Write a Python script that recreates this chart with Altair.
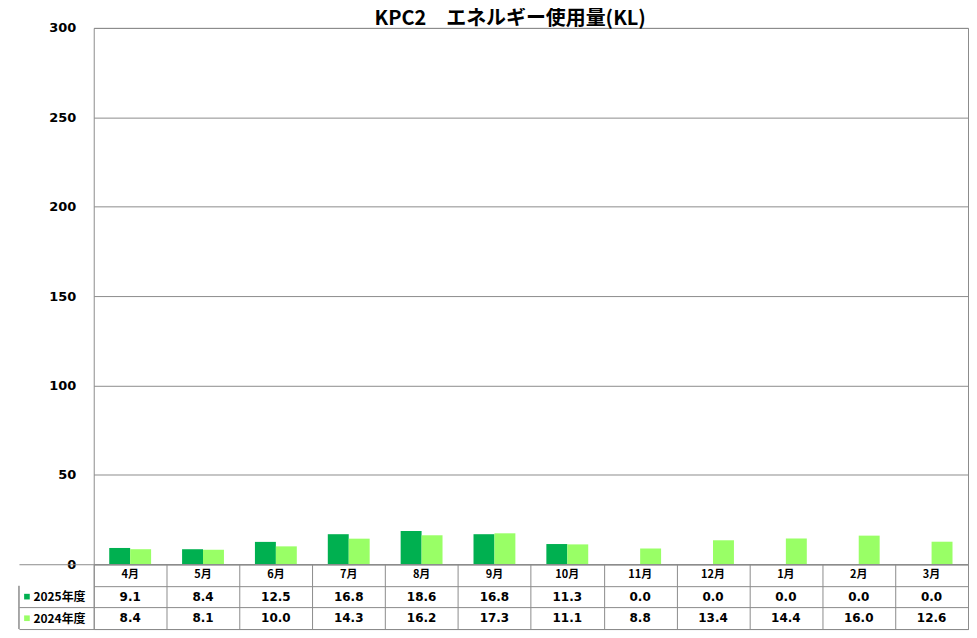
import altair as alt
import pandas as pd

months = ["4月", "5月", "6月", "7月", "8月", "9月", "10月", "11月", "12月", "1月", "2月", "3月"]
series = ["2025年度", "2024年度"]
fy2025 = [9.1, 8.4, 12.5, 16.8, 18.6, 16.8, 11.3, 0.0, 0.0, 0.0, 0.0, 0.0]
fy2024 = [8.4, 8.1, 10.0, 14.3, 16.2, 17.3, 11.1, 8.8, 13.4, 14.4, 16.0, 12.6]
colors = ["#00B050", "#99FF66"]
y_ticks = [0, 50, 100, 150, 200, 250, 300]
title_text = "KPC2　エネルギー使用量(KL)"

rows = []
for m, a, b in zip(months, fy2025, fy2024):
    rows.append({"month": m, "series": series[0], "value": a})
    rows.append({"month": m, "series": series[1], "value": b})
df = pd.DataFrame(rows)

header_key = "月"
row_domain = [header_key] + series
header_df = pd.DataFrame({"month": months, "row": [header_key] * len(months)})
legend_df = pd.DataFrame({"series": series})

FONT = "Noto Sans CJK JP"
NUMFONT = "DejaVu Sans"
GRID = "#8c8c8c"
W = 877
H_TOP = 538
H_TAB = 65

x_scale = alt.Scale(domain=months, paddingInner=0, paddingOuter=0)
color_scale = alt.Scale(domain=series, range=colors)

bars = alt.Chart(df).mark_bar().encode(
    x=alt.X("month:N", scale=x_scale, axis=None, sort=months),
    xOffset=alt.XOffset("series:N", scale=alt.Scale(domain=series, paddingInner=0, paddingOuter=0.74)),
    y=alt.Y("value:Q", scale=alt.Scale(domain=[0, 300]),
            axis=alt.Axis(values=y_ticks, title=None, grid=True, gridColor=GRID, domain=False,
                          ticks=False, labelPadding=18, labelFontSize=13, labelFontWeight="bold",
                          labelFont=NUMFONT, labelColor="#000")),
    color=alt.Color("series:N", scale=color_scale, legend=None),
).properties(width=W, height=H_TOP)

y_tab = alt.Scale(domain=row_domain, paddingInner=0, paddingOuter=0)

base_tab = alt.Chart(df).encode(
    x=alt.X("month:N", scale=x_scale, sort=months,
            axis=alt.Axis(title=None, labels=False, ticks=False, domain=False, grid=True,
                          gridColor=GRID, tickBand="extent")),
)

values_text = base_tab.mark_text(font=NUMFONT, fontSize=12, fontWeight="bold", color="#000").encode(
    y=alt.Y("series:N", scale=y_tab,
            axis=alt.Axis(title=None, domain=False, grid=True, gridColor=GRID, tickBand="extent",
                          tickSize=75, tickColor={"condition": {"test": f"datum.value === '{header_key}'", "value": "transparent"}, "value": GRID},
                          labelExpr=f"datum.value === '{header_key}' ? '' : datum.value",
                          labelAlign="left", labelPadding=-14, labelFont=FONT, labelFontSize=12,
                          labelFontWeight="bold", labelColor="#000")),
    text=alt.Text("value:Q", format=".1f"),
)

header_text = alt.Chart(header_df).mark_text(font=FONT, fontSize=11, fontWeight="bold", color="#000").encode(
    x=alt.X("month:N", scale=x_scale, sort=months),
    y=alt.Y("row:N", scale=y_tab),
    text="month:N",
)

legend_pts = alt.Chart(legend_df).mark_point(shape="square", filled=True, size=32, opacity=1).encode(
    x=alt.value(-67),
    y=alt.Y("series:N", scale=y_tab),
    color=alt.Color("series:N", scale=color_scale, legend=None),
)

left_border = alt.Chart(legend_df).mark_rule(color=GRID).encode(
    x=alt.value(-75),
    y=alt.value(H_TAB / 3),
    y2=alt.value(H_TAB),
)

table = alt.layer(values_text, header_text, legend_pts, left_border).properties(width=W, height=H_TAB)

chart = alt.vconcat(bars, table, spacing=0, bounds="flush").properties(
    title=alt.TitleParams(title_text, font=FONT, fontSize=20, fontWeight="bold", color="#000",
                          offset=-8, anchor="middle", dx=17),
    padding={"left": 10, "top": 0, "right": 0, "bottom": 0},
).configure_view(stroke=GRID).configure_concat(spacing=0)

chart.save("out.html", embed_options={"renderer": "svg", "actions": False})
